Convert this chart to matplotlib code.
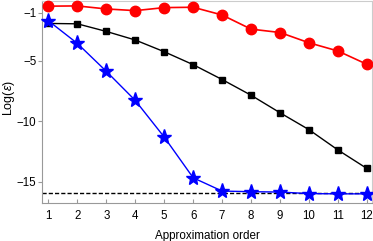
import matplotlib
matplotlib.use("Agg")
import matplotlib.pyplot as plt

plt.rcParams['font.family'] = ['Liberation Sans', 'DejaVu Sans']
plt.rcParams['mathtext.fontset'] = 'custom'
plt.rcParams['mathtext.it'] = 'Liberation Sans:italic'

# approximation order
order = [1, 2, 3, 4, 5, 6, 7, 8, 9, 10, 11, 12]
# log of error for the three methods
err_red = [-0.47, -0.45, -0.70, -0.84, -0.59, -0.56, -1.20, -2.37, -2.65, -3.50, -4.18, -5.28]
err_black = [-1.90, -1.93, -2.56, -3.27, -4.24, -5.31, -6.54, -7.84, -9.29, -10.69, -12.37, -13.90]
err_blue = [-1.68, -3.55, -5.86, -8.27, -11.30, -14.67, -15.77, -15.82, -15.85, -15.98, -16.0, -16.0]
eps_level = -15.9

fig = plt.figure(figsize=(3.73, 2.41), dpi=100)
ax = fig.add_axes([0.1126, 0.158, 0.885, 0.838])

ax.axhline(eps_level, color='black', linestyle=(0, (3, 1.5)), lw=1.0, zorder=1)
ax.plot(order, err_red, '-o', color='#ff0000', ms=7.5, lw=1.2, clip_on=False, zorder=3)
ax.plot(order, err_black, '-s', color='black', ms=5, lw=1.0, clip_on=False, zorder=3)
ax.plot(order, err_blue, '-*', color='#0000ff', ms=11, lw=1.0, clip_on=False, zorder=4)

ax.set_xlim(0.78, 12.18)
ax.set_ylim(-16.75, -0.04)
ax.set_xticks(order)
ax.set_yticks([-1, -5, -10, -15])
ax.set_yticklabels(['\u22121', '\u22125', '\u221210', '\u221215'])

for s in ['left', 'bottom']:
    ax.spines[s].set_color('#999999')
for s in ['top', 'right']:
    ax.spines[s].set_color('#cccccc')
ax.tick_params(axis='x', direction='in', length=3, color='#999999', labelsize=8.3, pad=5)
ax.tick_params(axis='y', direction='out', length=3, color='#999999', labelsize=8.3, pad=1)

ax.set_xlabel('Approximation order', fontsize=8.4, labelpad=6)
ax.set_ylabel(r'Log($\epsilon$)', fontsize=9)
ax.yaxis.set_label_coords(-0.075, 0.52)

fig.savefig('out.png', dpi=100)
